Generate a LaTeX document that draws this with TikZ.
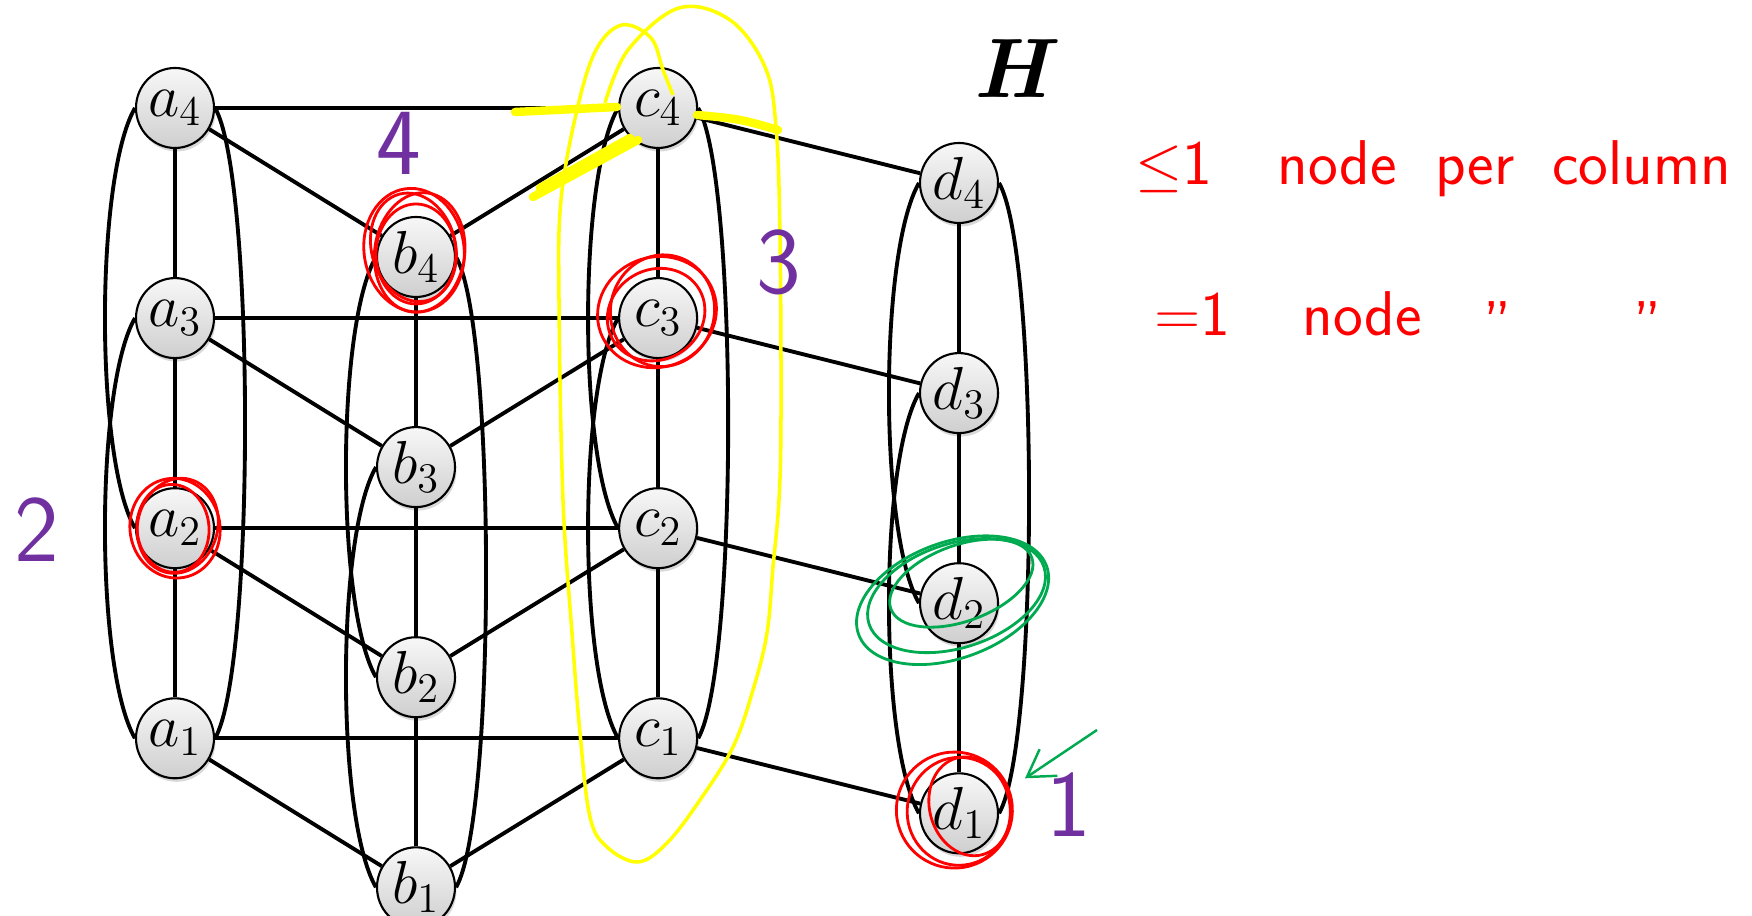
\documentclass[tikz,border=0pt]{standalone}
\usepackage{amsmath}
\usepackage{xcolor}
\usepackage{tikz}
\usetikzlibrary{arrows.meta,positioning,shapes.geometric,shadows}
\definecolor{inkred}{RGB}{255,0,0}
\definecolor{inkgreen}{RGB}{0,170,80}
\definecolor{inkpurple}{RGB}{112,48,160}
\definecolor{inkyellow}{RGB}{255,255,0}

\begin{document}
\begin{tikzpicture}[
node distance=1.28cm,
vertex/.style={ellipse,draw,line width=.6pt,minimum width=.78cm,minimum height=.8cm,inner sep=0pt,top color=gray!6,bottom color=gray!38,drop shadow={opacity=.3,shadow xshift=.015cm,shadow yshift=-.035cm},font=\fontsize{17}{20}\selectfont},
link/.style={line width=1.1pt},
scribble/.style={inkred,line width=.8pt},
loopgreen/.style={inkgreen,line width=.8pt},
hilite/.style={inkyellow,line width=2.4pt,line cap=round},
num/.style={text=inkpurple,font=\sffamily\fontsize{27}{30}\selectfont},
note/.style={text=inkred,anchor=base west,font=\sffamily\fontsize{18}{20}\selectfont}
]
\useasboundingbox (0,0) rectangle (17.52,9.16);
\node[vertex] (a4) at (1.75,8.08) {$a_4$};
\node[vertex,below=of a4] (a3) {$a_3$};
\node[vertex,below=of a3] (a2) {$a_2$};
\node[vertex,below=of a2] (a1) {$a_1$};
\node[vertex] (b4) at (4.16,6.59) {$b_4$};
\node[vertex,below=of b4] (b3) {$b_3$};
\node[vertex,below=of b3] (b2) {$b_2$};
\node[vertex,below=of b2] (b1) {$b_1$};
\node[vertex,right=4.03cm of a4] (c4) {$c_4$};
\node[vertex,below=of c4] (c3) {$c_3$};
\node[vertex,below=of c3] (c2) {$c_2$};
\node[vertex,below=of c2] (c1) {$c_1$};
\node[vertex] (d4) at (9.59,7.33) {$d_4$};
\node[vertex,below=of d4] (d3) {$d_3$};
\node[vertex,below=of d3] (d2) {$d_2$};
\node[vertex,below=of d2] (d1) {$d_1$};
\node[font=\bfseries\itshape\fontsize{24}{26}\selectfont] (title) at (10.11,8.47) {H};
\draw[link] (a4)--(a3) (a3)--(a2) (a2)--(a1) (b4)--(b3) (b3)--(b2) (b2)--(b1);
\draw[link] (c4)--(c3) (c3)--(c2) (c2)--(c1) (d4)--(d3) (d3)--(d2) (d2)--(d1);
\draw[link] (a4)--(c4) (a3)--(c3) (a2)--(c2) (a1)--(c1);
\draw[link] (a4)--(b4)--(c4) (a3)--(b3)--(c3) (a2)--(b2)--(c2) (a1)--(b1)--(c1);
\draw[link] (c4)--(d4) (c3)--(d3) (c2)--(d2) (c1)--(d1);
\draw[link] (a4.west) .. controls +(240:.8) and +(120:.8) .. (a2.west) (a3.west) .. controls +(240:.8) and +(120:.8) .. (a1.west) (a4.east) .. controls +(-60:.8) and +(60:.8) .. (a1.east);
\draw[link] (b4.west) .. controls +(240:.8) and +(120:.8) .. (b2.west) (b3.west) .. controls +(240:.8) and +(120:.8) .. (b1.west) (b4.east) .. controls +(-60:.8) and +(60:.8) .. (b1.east);
\draw[link] (c4.west) .. controls +(240:.8) and +(120:.8) .. (c2.west) (c3.west) .. controls +(240:.8) and +(120:.8) .. (c1.west) (c4.east) .. controls +(-60:.8) and +(60:.8) .. (c1.east);
\draw[link] (d4.west) .. controls +(240:.8) and +(120:.8) .. (d2.west) (d3.west) .. controls +(240:.8) and +(120:.8) .. (d1.west) (d4.east) .. controls +(-60:.8) and +(60:.8) .. (d1.east);
\draw[inkyellow,line width=1pt] plot[smooth,tension=.6] coordinates {(6.05,8.13) (6.28,8.66) (6.79,9.08) (7.30,8.96) (7.65,8.49) (7.76,7.89) (7.80,6.80) (7.81,5.00) (7.79,4.16) (7.73,3.49) (7.67,2.83) (7.53,2.26) (7.33,1.69) (7.00,1.16) (6.67,0.73) (6.38,0.54) (6.07,0.69) (5.90,0.99) (5.80,1.83) (5.72,2.83) (5.63,4.16) (5.59,6.16) (5.61,7.16) (5.77,8.06) (5.96,8.66) (6.22,8.91) (6.51,8.78) (6.63,8.46) (6.73,8.21)};
\draw[hilite] (5.15,8.04) -- (6.17,8.09);
\draw[hilite] (5.33,7.19) -- (6.38,7.76) (5.40,7.28) -- (6.30,7.78);
\draw[hilite] (6.97,8.01) .. controls (7.40,7.97) .. (7.78,7.86);
\draw[scribble,shift={(a2)},rotate=10] (0,0) ellipse (.45 and .5);
\draw[scribble,shift={(a2)},rotate=-15] (.02,.03) ellipse (.4 and .48);
\draw[scribble,shift={(a2)},rotate=5] (-.02,0) ellipse (.36 and .44);
\draw[scribble,shift={(b4)},rotate=8] (-.01,.07) ellipse (.5 and .62);
\draw[scribble,shift={(b4)},rotate=-8] (.03,.05) ellipse (.45 and .6);
\draw[scribble,shift={(b4)},rotate=15] (0,.1) ellipse (.42 and .55);
\draw[scribble,shift={(b4)}] (0,.03) ellipse (.4 and .5);
\draw[scribble,shift={(c3)},rotate=20] (.01,.06) ellipse (.6 and .55);
\draw[scribble,shift={(c3)},rotate=-10] (.03,.08) ellipse (.52 and .56);
\draw[scribble,shift={(c3)},rotate=30] (0,.04) ellipse (.5 and .45);
\draw[scribble,shift={(d1)},rotate=10] (-.04,.04) ellipse (.58 and .58);
\draw[scribble,shift={(d1)},rotate=-5] (0,.02) ellipse (.52 and .54);
\draw[scribble,shift={(d1)},rotate=15] (.12,.04) ellipse (.4 and .5);
\draw[loopgreen,shift={(d2)},rotate=20] (-.05,.05) ellipse (1 and .58);
\draw[loopgreen,shift={(d2)},rotate=18] (0,.08) ellipse (.92 and .52);
\draw[loopgreen,shift={(d2)},rotate=20] (.09,.18) ellipse (.75 and .38);
\coordinate (arrowtail) at (10.97,1.86);
\draw[inkgreen,line width=.7pt,-{Straight Barb[length=2.6mm,width=3.2mm]}] (arrowtail) -- ([shift={(.66,.35)}]d1.center);
\node[num] (n4) at (3.99,7.73) {4};
\node[num] (n3) at (7.79,6.54) {3};
\node[num] (n2) at (0.37,3.86) {2};
\node[num] (n1) at (10.69,1.11) {1};
\node[note] (lea) at (11.23,7.31) {$\leq$1};
\node[note] (leb) at (12.65,7.31) {node};
\node[note] (lec) at (14.23,7.31) {per};
\node[note] (led) at (15.40,7.31) {column};
\node[note] (eqa) at (11.42,5.80) {=1};
\node[note] (eqb) at (12.90,5.80) {node};
\node[note] (eqc) at (14.71,5.70) {''};
\node[note] (eqd) at (16.21,5.70) {''};
\end{tikzpicture}
\end{document}
